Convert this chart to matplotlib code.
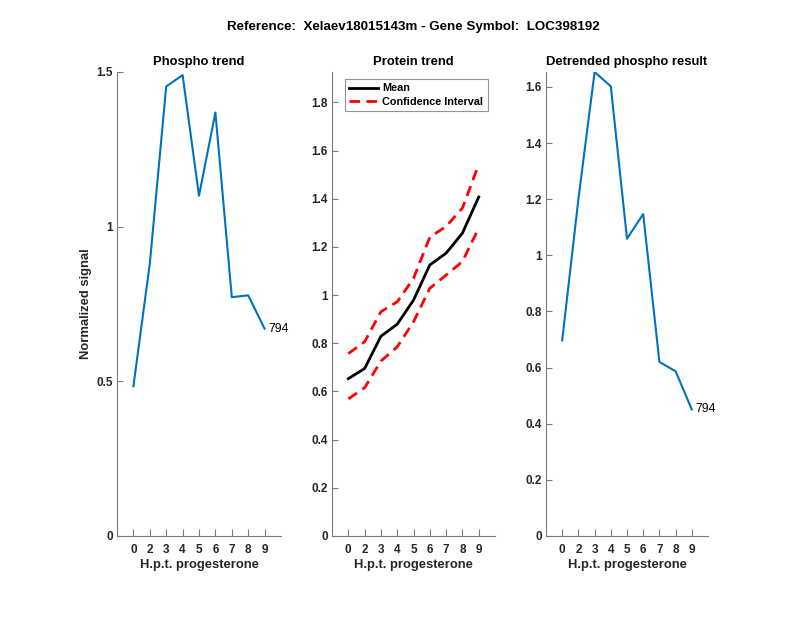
import numpy as np
import matplotlib
matplotlib.use("Agg")
import matplotlib.pyplot as plt

plt.rcParams['font.family'] = ['Liberation Sans', 'DejaVu Sans']

tick_labels = ['0', '2', '3', '4', '5', '6', '7', '8', '9']
phospho = [0.484, 0.880, 1.453, 1.490, 1.100, 1.369, 0.772, 0.778, 0.670]
protein_mean = [0.653, 0.695, 0.829, 0.879, 0.979, 1.125, 1.174, 1.257, 1.407]
protein_upper = [0.757, 0.806, 0.931, 0.972, 1.069, 1.240, 1.285, 1.361, 1.542]
protein_lower = [0.569, 0.615, 0.726, 0.785, 0.889, 1.028, 1.083, 1.139, 1.278]
detrended = [0.697, 1.200, 1.653, 1.602, 1.059, 1.147, 0.620, 0.587, 0.451]
peptide_id = '794'

suptitle = 'Reference:  Xelaev18015143m - Gene Symbol:  LOC398192'
xlabel = 'H.p.t. progesterone'
ylabel = 'Normalized signal'

blue = (0, 0.447, 0.741)
axcol = '#262626'

fig = plt.figure(figsize=(8.0, 6.18), dpi=100)
W, H = 800, 618
boxes = [(117, 281), (332, 495), (546, 708)]
top, bottom = 72, 536
axes = []
for (l, r) in boxes:
    ax = fig.add_axes([l / W, (H - bottom) / H, (r - l) / W, (bottom - top) / H])
    axes.append(ax)

x = np.arange(1, len(tick_labels) + 1)

def style(ax, ylim, yticks, yticklabels):
    ax.set_xlim(0, len(tick_labels) + 1)
    ax.set_ylim(*ylim)
    ax.set_xticks(x)
    ax.set_xticklabels(tick_labels)
    ax.set_yticks(yticks)
    ax.set_yticklabels(yticklabels)
    for s in ['top', 'right']:
        ax.spines[s].set_visible(False)
    for s in ['left', 'bottom']:
        ax.spines[s].set_color('#7a7a7a')
        ax.spines[s].set_linewidth(0.8)
    ax.tick_params(axis='both', direction='in', colors='#7a7a7a', labelcolor=axcol,
                   labelsize=8.5, width=0.8)
    ax.tick_params(axis='x', length=5, pad=6)
    ax.tick_params(axis='y', length=4, pad=3)
    for t in ax.get_xticklabels() + ax.get_yticklabels():
        t.set_fontweight('bold')
    ax.set_xlabel(xlabel, fontsize=9.4, fontweight='bold', color=axcol, labelpad=2)

# Panel 1
ax = axes[0]
ax.plot(x, phospho, color=blue, lw=1.5)
ax.text(x[-1] + 0.25, phospho[-1], peptide_id, fontsize=8.8, va='center', ha='left')
style(ax, (0, 1.5), [0, 0.5, 1, 1.5], ['0', '0.5', '1', '1.5'])
ax.set_title('Phospho trend', fontsize=9.4, fontweight='bold', pad=5)
ax.set_ylabel(ylabel, fontsize=9.4, fontweight='bold', color=axcol, labelpad=3)

# Panel 2
ax = axes[1]
dash = (0, (3.8, 2.3))
ax.plot(x, protein_mean, color='black', lw=2, label='Mean')
ax.plot(x, protein_upper, color='red', lw=2, ls=dash, label='Confidence Interval')
ax.plot(x, protein_lower, color='red', lw=2, ls=dash)
yt = [0, 0.2, 0.4, 0.6, 0.8, 1.0, 1.2, 1.4, 1.6, 1.8]
style(ax, (0, 1.926), yt, ['0', '0.2', '0.4', '0.6', '0.8', '1', '1.2', '1.4', '1.6', '1.8'])
ax.set_title('Protein trend', fontsize=9.4, fontweight='bold', pad=5)
leg = ax.legend(loc='upper left', bbox_to_anchor=(0.08, 0.985),
                prop={'weight': 'bold', 'size': 7.8}, frameon=True, fancybox=False,
                borderpad=0.4, handlelength=2.6, labelspacing=0.3, handletextpad=0.45,
                borderaxespad=0)
leg.get_frame().set_edgecolor('#7a7a7a')
leg.get_frame().set_linewidth(0.8)

# Panel 3
ax = axes[2]
ax.plot(x, detrended, color=blue, lw=1.5)
ax.text(x[-1] + 0.25, detrended[-1], peptide_id, fontsize=8.8, va='center', ha='left')
yt = [0, 0.2, 0.4, 0.6, 0.8, 1.0, 1.2, 1.4, 1.6]
style(ax, (0, 1.653), yt, ['0', '0.2', '0.4', '0.6', '0.8', '1', '1.2', '1.4', '1.6'])
ax.set_title('Detrended phospho result', fontsize=9.4, fontweight='bold', pad=5)

fig.text(413.5 / W, 1 - 27 / H, suptitle, ha='center', va='center', fontsize=9.6,
         fontweight='bold')

fig.savefig('out.png', dpi=100)
